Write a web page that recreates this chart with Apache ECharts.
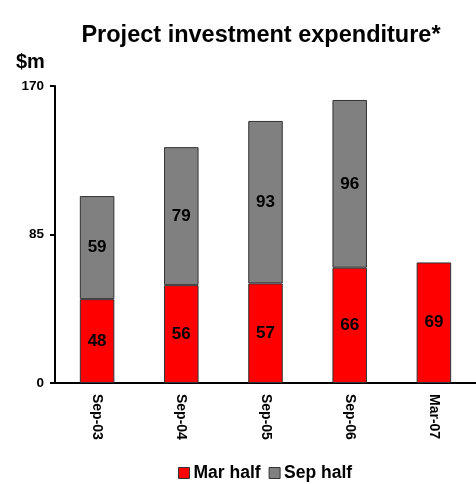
<!DOCTYPE html>
<html><head><meta charset="utf-8">
<script src="https://cdn.jsdelivr.net/npm/echarts@6/dist/echarts.min.js"></script>
<style>html,body{margin:0;padding:0;background:#fff}#c{width:476px;height:484px}</style>
</head><body><div id="c"></div>
<script>
var categories = ['Sep-03','Sep-04','Sep-05','Sep-06','Mar-07'];
var marHalf = [48, 56, 57, 66, 69];
var sepHalf = [59, 79, 93, 96, null];
var yTicks = [0, 85, 170];

var chart = echarts.init(document.getElementById('c'));
var font = 'Liberation Sans, Arial, sans-serif';
var lbl = {show:true, position:'inside', color:'#000', fontWeight:'bold', fontSize:17, fontFamily:font};
chart.setOption({
  animation:false,
  title:{text:'Project investment expenditure*', left:256, textAlign:'center', top:19,
    textStyle:{fontFamily:font, fontWeight:'bold', fontSize:23.5, color:'#000'}},
  graphic:[{type:'text', left:16, top:52, style:{text:'$m', font:'bold 20px '+font, fill:'#000'}}],
  legend:{left:173, top:459, itemWidth:11, itemHeight:11, itemGap:8, icon:'rect',
    textStyle:{fontFamily:font, fontWeight:'bold', fontSize:17.5, color:'#000', padding:[0,0,0,-1]},
    data:[{name:'Mar half', itemStyle:{borderColor:'#333', borderWidth:1}},{name:'Sep half', itemStyle:{borderColor:'#333', borderWidth:1}}]},
  grid:{left:55, right:-1, top:86, bottom:101},
  xAxis:{type:'category', data:categories,
    axisLine:{lineStyle:{color:'#000', width:2}}, axisTick:{show:false},
    axisLabel:{rotate:-90, margin:11, fontFamily:font, fontWeight:'bold', fontSize:14, color:'#000'}},
  yAxis:{type:'value', min:0, max:170, interval:85,
    axisLine:{show:true, lineStyle:{color:'#000', width:2}},
    axisTick:{show:true, length:5, lineStyle:{color:'#000', width:2}},
    splitLine:{show:false},
    axisLabel:{margin:11, fontFamily:font, fontWeight:'bold', fontSize:13.5, color:'#000',
      formatter:function(v){return yTicks.indexOf(v)>=0? String(v):'';}}},
  series:[
    {name:'Mar half', type:'bar', stack:'a', data:marHalf, barWidth:'41%',
      itemStyle:{color:'#FF0000', borderColor:'#333', borderWidth:1}, label:lbl},
    {name:'Sep half', type:'bar', stack:'a', data:sepHalf, barWidth:'41%',
      itemStyle:{color:'#808080', borderColor:'#333', borderWidth:1}, label:lbl}
  ]
});
</script></body></html>
